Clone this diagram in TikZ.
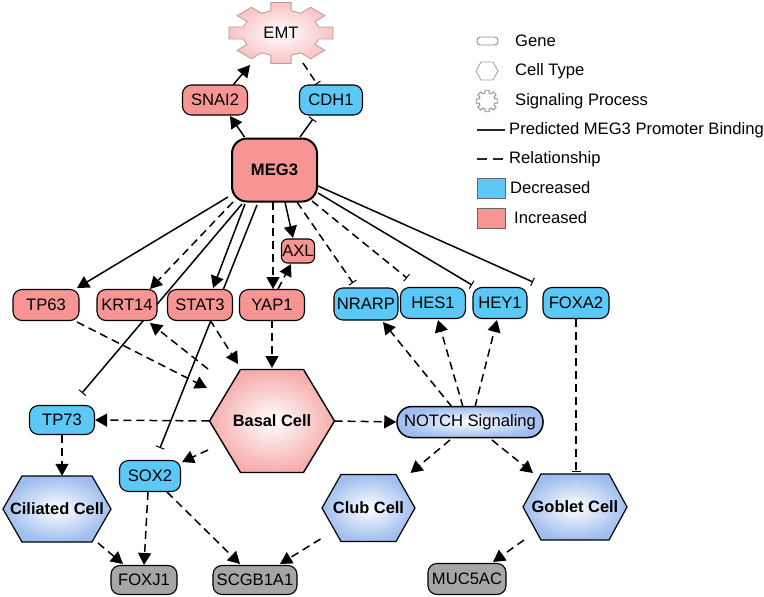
\documentclass[tikz,border=0pt]{standalone}
\usepackage{fontspec}
\setmainfont{Liberation Sans}
\usetikzlibrary{arrows.meta,calc,backgrounds}
\definecolor{incred}{HTML}{F79494}
\definecolor{decblue}{HTML}{5BC8F6}
\definecolor{genegray}{HTML}{A6A6A6}
\definecolor{cellblue}{HTML}{9FBDEE}
\definecolor{cellpink}{HTML}{F6ACAC}
\definecolor{emtpink}{HTML}{F9C2C2}
\definecolor{emtborder}{HTML}{B89C9C}
\definecolor{legendgray}{HTML}{8C8C8C}
\tikzset{
  gene/.style={draw=black, line width=1.1pt, rounded corners=9pt, minimum height=30pt,
    inner sep=0pt, font=\fontsize{16.6}{18}\selectfont},
  incgene/.style={gene, fill=incred},
  decgene/.style={gene, fill=decblue},
  tgtgene/.style={gene, fill=genegray},
  celltext/.style={inner sep=0pt, font=\fontsize{16.4}{18}\selectfont\bfseries},
  bluecell/.style={draw=black, line width=1.2pt, shading=radial, inner color=white, outer color=cellblue},
  pinkcell/.style={draw=black, line width=1.4pt, shading=radial, inner color=white, outer color=cellpink},
  bindline/.style={line width=1.5pt},
  relline/.style={line width=1.5pt, dash pattern=on 8pt off 5pt},
  act/.style={-{Triangle[length=12pt,width=13pt]}},
  inh/.style={-{Bar[width=9pt,line width=1pt]}},
  legtext/.style={anchor=west, inner sep=0pt, font=\fontsize{16.6}{18}\selectfont},
}
% name, center, half width, half height, inset, style, text
\newcommand\hexa[7]{%
  \path[#6] ($(#2)+(-#3,0)$) -- ($(#2)+(-#3+#5,-#4)$) -- ($(#2)+(#3-#5,-#4)$)
    -- ($(#2)+(#3,0)$) -- ($(#2)+(#3-#5,#4)$) -- ($(#2)+(-#3+#5,#4)$) -- cycle;
  \node[celltext, minimum width={2*#3pt}, minimum height={2*#4pt}] (#1) at (#2) {#7};}
\begin{document}
\begin{tikzpicture}[x=1pt,y=-1pt]
\useasboundingbox (0,0) rectangle (764,597);

% EMT gear
\begin{scope}[shift={(281,33)}, x=53pt, y=31pt]
  \path[draw=emtborder, line width=0.8pt, shading=radial, inner color=white, outer color=emtpink]
    (-15:0.74) \foreach \a in {0,45,...,315}{ -- (\a-15:0.74) -- (\a-11:1) -- (\a+11:1) -- (\a+15:0.74) } -- cycle;
\end{scope}
\node[inner sep=0pt, minimum width=106pt, minimum height=62pt, font=\fontsize{16.6}{18}\selectfont] (emt) at (281,33) {EMT};

% genes
\node[incgene, minimum width=65pt] (snai2) at (215,100) {SNAI2};
\node[decgene, minimum width=63pt] (cdh1) at (331,100) {CDH1};
\node[incgene, minimum width=85pt, minimum height=63pt, rounded corners=15pt, line width=2pt, font=\fontsize{16.6}{18}\selectfont\bfseries] (meg3) at (274.5,170) {MEG3};
\node[incgene, minimum width=33pt, minimum height=24pt, rounded corners=6pt] (axl) at (298,251) {AXL};
\node[incgene, minimum width=66pt, minimum height=31pt] (tp63) at (46,305) {TP63};
\node[incgene, minimum width=60pt, minimum height=31pt] (krt14) at (127,305) {KRT14};
\node[incgene, minimum width=65pt, minimum height=31pt] (stat3) at (200,305) {STAT3};
\node[incgene, minimum width=65pt, minimum height=31pt] (yap1) at (272,305) {YAP1};
\node[decgene, minimum width=64pt, minimum height=32pt] (nrarp) at (366,304) {NRARP};
\node[decgene, minimum width=65pt, minimum height=31pt] (hes1) at (433,303) {HES1};
\node[decgene, minimum width=54pt, minimum height=31pt] (hey1) at (500,303) {HEY1};
\node[decgene, minimum width=66pt, minimum height=31pt] (foxa2) at (576,303) {FOXA2};
\node[decgene, minimum width=65pt, minimum height=29pt] (tp73) at (62,420) {TP73};
\node[decgene, minimum width=61pt, minimum height=31pt] (sox2) at (150,476) {SOX2};
\node[tgtgene, minimum width=66pt, minimum height=29pt] (foxj1) at (144,580) {FOXJ1};
\node[tgtgene, minimum width=84pt, minimum height=29pt] (scgb) at (255,580) {SCGB1A1};
\node[tgtgene, minimum width=78pt, minimum height=31pt] (muc5ac) at (467,579) {MUC5AC};
\node[gene, minimum width=146pt, minimum height=31pt, rounded corners=15pt, line width=1.5pt,
  shading=radial, inner color=white, outer color=cellblue] (notch) at (470,422) {NOTCH Signaling};

% cell types
\hexa{basal}{272,421}{62.5}{51.5}{31}{pinkcell}{Basal Cell}
\hexa{ciliated}{57,509}{54}{33}{19}{bluecell}{Ciliated Cell}
\hexa{club}{368.5,508}{46.5}{33.5}{19}{bluecell}{Club Cell}
\hexa{goblet}{575,507}{52}{33}{18}{bluecell}{Goblet Cell}

% connectors
\begin{scope}[on background layer]
\draw[bindline, act] ($(meg3)+(-30,-33)$) -- ($(snai2)+(15,16)$);
\draw[bindline, act] ($(snai2)+(18,-15)$) -- ($(emt)+(-31,32)$);
\draw[relline, inh] ($(emt)+(22,30)$) -- ($(cdh1)+(-14,-16)$);
\draw[bindline, inh] ($(meg3)+(25.5,-33)$) -- ($(cdh1)+(-18,19)$);
\draw[bindline, act] ($(meg3)+(-46.5,27)$) -- ($(tp63)+(31,-17)$);
\draw[relline, act] ($(meg3)+(-41.5,32)$) -- ($(krt14)+(23,-16)$);
\draw[bindline, inh] ($(meg3)+(-32.5,34)$) -- ($(tp73)+(20,-27)$);
\draw[bindline, act] ($(meg3)+(-29.5,34)$) -- ($(stat3)+(13,-17)$);
\draw[bindline, inh] ($(meg3)+(-17.5,35)$) -- ($(sox2)+(10,-28)$);
\draw[relline, act] ($(meg3)+(-1.5,32)$) -- ($(yap1)+(1,-16)$);
\draw[bindline, act] ($(meg3)+(10.5,32)$) -- ($(axl)+(-5,-13)$);
\draw[relline, act] ($(yap1)+(6,-16)$) -- ($(axl)+(-7,13)$);
\draw[relline, inh] ($(meg3)+(22.5,32)$) -- ($(nrarp)+(-13,-21)$);
\draw[relline, inh] ($(meg3)+(37.5,31)$) -- ($(hes1)+(-26,-25)$);
\draw[bindline, inh] ($(meg3)+(43.5,23)$) -- ($(hey1)+(-28,-18)$);
\draw[bindline, inh] ($(meg3)+(43.5,16)$) -- ($(foxa2)+(-43,-21)$);
\draw[relline, act] ($(tp63)+(31,17)$) -- ($(basal)+(-65,-33)$);
\draw[relline, act] ($(basal)+(-64,-52)$) -- ($(krt14)+(23,18)$);
\draw[relline, act] ($(stat3)+(10,15)$) -- ($(basal)+(-34,-57)$);
\draw[relline, act] ($(yap1)+(0,15)$) -- ($(basal)+(0,-53)$);
\draw[relline, act] (basal.west) -- (tp73.east);
\draw[relline, act] ($(basal)+(-64,29)$) -- ($(sox2)+(32,-14)$);
\draw[relline, act] (basal.east) -- (notch.west);
\draw[relline, act] (tp73.south) -- (tp73.south |- ciliated.north);
\draw[relline, act] ($(ciliated)+(41,34)$) -- ($(foxj1)+(-21,-16)$);
\draw[relline, act] ($(sox2)+(-2,16)$) -- ($(foxj1)+(0,-15)$);
\draw[relline, act] ($(sox2)+(17,16)$) -- ($(scgb)+(-15,-16)$);
\draw[relline, act] ($(club)+(-48,31)$) -- ($(scgb)+(25,-16)$);
\draw[relline, act] ($(notch)+(-18,-15)$) -- ($(nrarp)+(17,18)$);
\draw[relline, act] ($(notch)+(-7,-15)$) -- ($(hes1)+(5,17)$);
\draw[relline, act] ($(notch)+(5,-15)$) -- ($(hey1)+(-3,17)$);
\draw[relline, act] ($(notch)+(-20,18)$) -- ($(club)+(42,-35)$);
\draw[relline, act] ($(notch)+(22,18)$) -- ($(goblet)+(-42,-34)$);
\draw[relline, inh] (foxa2.south) -- ($(goblet)+(1,-35)$);
\draw[relline, act] ($(goblet)+(-51,33)$) -- ($(muc5ac)+(26,-17)$);
\end{scope}

% legend
\draw[legendgray, line width=0.9pt, rounded corners=3.5pt, fill=white] (477,37) rectangle (498,45);
\node[legtext] (lgene) at (515,41) {Gene};
\draw[legendgray!80, line width=0.9pt] (476,71) -- (481,62) -- (493,62) -- (498,71) -- (493,80) -- (481,80) -- cycle;
\node[legtext] (lcell) at (515,71) {Cell Type};
\begin{scope}[shift={(487,101)}, x=11pt, y=11pt]
  \draw[legendgray, line width=0.8pt, fill=white]
    (-15:0.74) \foreach \a in {0,45,...,315}{ -- (\a-15:0.74) -- (\a-11:1) -- (\a+11:1) -- (\a+15:0.74) } -- cycle;
\end{scope}
\node[legtext] (lsig) at (515,101) {Signaling Process};
\coordinate (lb1) at (477,130);
\coordinate (lb2) at (505,130);
\draw[line width=1.5pt, black!85] (lb1) -- (lb2);
\node[legtext] (lbind) at (509,130) {Predicted MEG3 Promoter Binding};
\coordinate (lr1) at (477,159);
\coordinate (lr2) at (505,159);
\draw[line width=1.5pt, black!85, dash pattern=on 10pt off 6pt] (lr1) -- (lr2);
\node[legtext] (lrel) at (509,159) {Relationship};
\draw[fill=decblue, draw=black!60, line width=0.6pt] (477,178) rectangle (505,198);
\node[legtext] (ldec) at (510,188) {Decreased};
\draw[fill=incred, draw=black!60, line width=0.6pt] (477,208) rectangle (505,228);
\node[legtext] (linc) at (514,218) {Increased};
\end{tikzpicture}
\end{document}
